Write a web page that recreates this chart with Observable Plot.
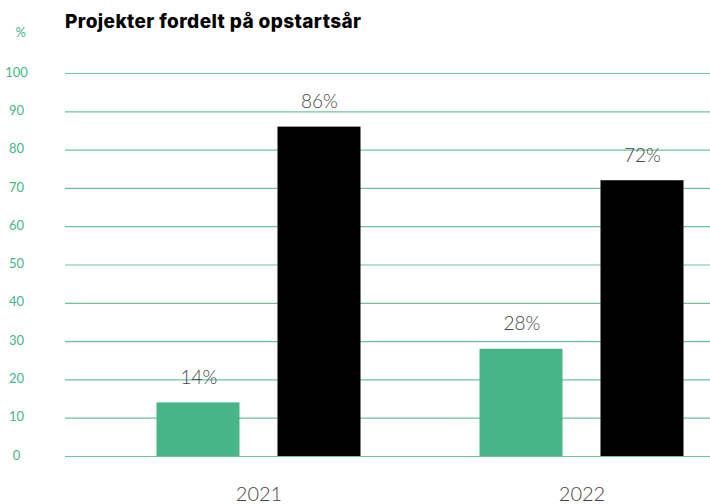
<!DOCTYPE html>
<html>
<head>
<meta charset="utf-8">
<script src="https://cdn.jsdelivr.net/npm/d3@7"></script>
<script src="https://cdn.jsdelivr.net/npm/@observablehq/plot@0.6"></script>
<style>
  html, body { margin: 0; padding: 0; background: #fff; }
  #wrap { position: relative; width: 710px; height: 504px; }
  #title { position: absolute; left: 65px; top: 10px; font-family: Inter, Lato, sans-serif; font-weight: 800; font-size: 19px; letter-spacing: 0.4px; color: #000; white-space: nowrap; }
  svg { font-family: Lato, "Open Sans", sans-serif; }
</style>
</head>
<body>
<div id="wrap">
  <div id="title">Projekter fordelt på opstartsår</div>
</div>
<script>
const years = ["2021", "2022"];
const greenValues = [14, 28];
const blackValues = [86, 72];
const yTicks = [0, 10, 20, 30, 40, 50, 60, 70, 80, 90, 100];

const greenData = years.map((y, i) => ({year: y, value: greenValues[i]}));
const blackData = years.map((y, i) => ({year: y, value: blackValues[i]}));

const green = "#47b585";
const gridGreen = "#6cc49d";
const labelColor = "#444";

const chart = Plot.plot({
  width: 710,
  height: 504,
  marginTop: 73,
  marginBottom: 48,
  marginLeft: 65,
  marginRight: 0,
  style: {fontFamily: "Lato, 'Open Sans', sans-serif", background: "transparent"},
  x: {type: "band", domain: years, range: [96.5, 742.5], padding: 0},
  y: {domain: [0, 100]},
  marks: [
    Plot.ruleY(yTicks, {stroke: gridGreen, strokeWidth: 1.2}),
    Plot.axisY(yTicks, {tickSize: 0, tickPadding: 49, textAnchor: "middle", fill: green, fontSize: 13, label: null, dy: -1}),
    Plot.text(["%"], {frameAnchor: "top-left", dx: -50, dy: -46, fill: green, fontSize: 13}),
    Plot.axisX({tickSize: 0, tickPadding: 30, fontSize: 20, fill: labelColor, fontWeight: 300, label: null}),
    Plot.barY(greenData, {x: "year", y: "value", fill: green, insetLeft: 59.5, insetRight: 180.5}),
    Plot.barY(blackData, {x: "year", y: "value", fill: "#000", insetLeft: 180.5, insetRight: 59.5}),
    Plot.text(greenData, {x: "year", y: "value", text: d => d.value + "%", dx: -60, dy: -25, fontSize: 19, fill: labelColor, fontWeight: 300}),
    Plot.text(blackData, {x: "year", y: "value", text: d => d.value + "%", dx: 60.5, dy: -25, fontSize: 19, fill: labelColor, fontWeight: 300})
  ]
});
document.getElementById("wrap").prepend(chart);
</script>
</body>
</html>
